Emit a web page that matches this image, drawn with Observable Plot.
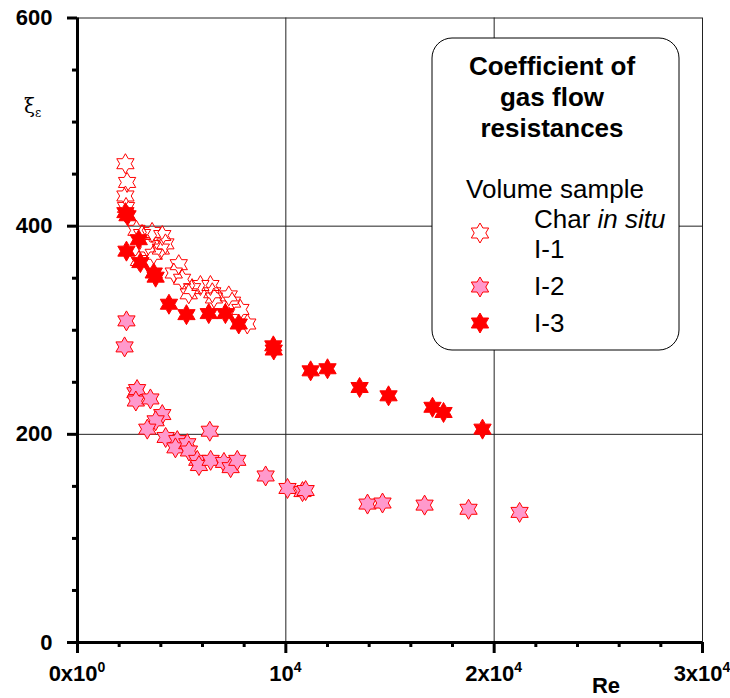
<!DOCTYPE html>
<html><head><meta charset="utf-8">
<script src="https://cdn.jsdelivr.net/npm/d3@7"></script>
<script src="https://cdn.jsdelivr.net/npm/@observablehq/plot@0.6"></script>
<style>body{margin:0;background:#fff}#chart{width:730px;height:698px}</style>
</head><body><div id="chart"></div>
<script>
// Series I-1 (Char in situ) – hollow stars
const re1 = [2300,2380,2300,2330,2830,3100,3580,4070,4220,3340,3660,4000,2950,4860,4620,5020,5500,5340,5900,6380,6470,6550,7260,7420,7820,8150];
const xi1 = [460,442,429,418,396,392,394,391,383,380,373,378,367,363,355,349,340,335,343,343,336,331,333,327,320,306];
// Series I-2 – pink stars
const re2 = [2260,2350,2780,2860,2800,3500,4070,3750,3350,4230,4790,4700,5270,5350,5750,5830,6390,7030,7350,7670,6350,9030,10080,10800,10950,13920,14640,16660,18770,21220];
const xi2 = [284,309,240,243,232,234,219,213,205,197,194,187,191,184,175,170,175,173,168,175,203,160,148,145,146,133,134,132,128,125];
// Series I-3 – red stars
const re3 = [2300,2400,2940,2350,3020,3660,3750,4390,5230,6300,7100,7740,9400,9420,11190,12000,13540,14930,17040,17570,19440];
const xi3 = [413,410,387,376,365,355,351,325,315,316,316,306,285,281,261,263,245,237,226,221,205];

const xMajor = [0,10000,20000,30000];
const xMajorLabels = [["0x10","0"],["10","4"],["2x10","4"],["3x10","4"]];
const xMinor = [2000,4000,6000,8000,12000,14000,16000,18000,22000,24000,26000,28000];
const yMajor = [0,200,400,600];
const yMinor = [50,100,150,250,300,350,450,500,550];
const xGrid = [10000,20000];
const yGrid = [200,400];
const xLabel = "Re";
const legendTitle = ["Coefficient of","gas flow","resistances"];
const legendSubtitle = "Volume sample";
const seriesColors = {hollowStroke:"#ff0000", pink:"#ff99cc", red:"#ff0000"};

const hexagram = {draw(ctx, size) {
  const R = Math.sqrt(size / Math.PI), r = R / Math.sqrt(3);
  for (let k = 0; k < 12; k++) {
    const a = -Math.PI / 2 + k * Math.PI / 6, rr = k % 2 ? r : R;
    const x = rr * Math.cos(a), y = rr * Math.sin(a);
    if (k) ctx.lineTo(x, y); else ctx.moveTo(x, y);
  }
  ctx.closePath();
}};
const rows = (xs, ys) => xs.map((x, i) => ({re: x, xi: ys[i]}));
const font = "'Liberation Sans', Arial, sans-serif";

const plot = Plot.plot({
  width: 730, height: 698,
  marginLeft: 77, marginRight: 28, marginTop: 17.5, marginBottom: 56,
  style: {fontFamily: font, background: "#fff", color: "#000", overflow: "visible"},
  x: {domain: [0, 30000]},
  y: {domain: [0, 600]},
  marks: [
    Plot.ruleX(xGrid, {stroke: "#222", strokeWidth: 1}),
    Plot.ruleY(yGrid, {stroke: "#222", strokeWidth: 1}),
    Plot.ruleY([600], {stroke: "#222", strokeWidth: 1}),
    Plot.ruleX([30000], {stroke: "#222", strokeWidth: 1}),
    Plot.axisX(xMinor, {tickSize: 5, strokeWidth: 3, tickFormat: () => "", label: null}),
    Plot.axisX(xMajor, {tickSize: 11, strokeWidth: 3, tickFormat: () => "", label: null}),
    Plot.axisY(yMinor, {tickSize: 5, strokeWidth: 3, tickFormat: () => "", label: null}),
    Plot.axisY(yMajor, {tickSize: 10, tickPadding: 15, strokeWidth: 3, fontSize: 22, fontWeight: "bold", label: null}),
    Plot.ruleX([0], {stroke: "#000", strokeWidth: 3}),
    Plot.ruleY([0], {stroke: "#000", strokeWidth: 3}),
    Plot.dot(rows(re1, xi1), {x: "re", y: "xi", r: 10, symbol: hexagram, fill: "none", stroke: seriesColors.hollowStroke, strokeWidth: 1}),
    Plot.dot(rows(re2, xi2), {x: "re", y: "xi", r: 10, symbol: hexagram, fill: seriesColors.pink, stroke: "#ff0000", strokeWidth: 1}),
    Plot.dot(rows(re3, xi3), {x: "re", y: "xi", r: 10, symbol: hexagram, fill: seriesColors.red, stroke: "#ff0000", strokeWidth: 1})
  ]
});
document.getElementById("chart").appendChild(plot);

const svg = d3.select(plot);
const xs = plot.scale("x");
// x tick labels with superscripts
const xl = svg.append("g").attr("font-family", font).attr("font-weight", "bold").attr("font-size", 22).attr("text-anchor", "middle");
xMajor.forEach((v, i) => {
  const t = xl.append("text").attr("x", xs.apply(v)).attr("y", 681);
  t.append("tspan").text(xMajorLabels[i][0]);
  t.append("tspan").attr("dy", -9).attr("font-size", 14).text(xMajorLabels[i][1]);
});
svg.append("text").attr("x", 606).attr("y", 693).attr("font-family", font).attr("font-weight", "bold")
  .attr("font-size", 22).attr("text-anchor", "middle").text(xLabel);
// y label xi_epsilon
const yl = svg.append("text").attr("x", 24).attr("y", 113).attr("text-anchor", "start").attr("font-family", "'DejaVu Serif', serif").attr("font-size", 20);
yl.append("tspan").text("ξ");
yl.append("tspan").attr("dy", 4).attr("font-size", 12).text("ε");

// legend
const lg = svg.append("g").attr("font-family", font).attr("font-size", 26).attr("text-anchor", "start");
lg.append("rect").attr("x", 432).attr("y", 38).attr("width", 247).attr("height", 312).attr("rx", 20)
  .attr("fill", "#fff").attr("stroke", "#000").attr("stroke-width", 1);
legendTitle.forEach((s, i) => lg.append("text").attr("x", 552).attr("y", 75 + i * 31)
  .attr("font-weight", "bold").attr("text-anchor", "middle").text(s));
lg.append("text").attr("x", 555).attr("y", 198).attr("text-anchor", "middle").text(legendSubtitle);
const l1 = lg.append("text").attr("x", 534).attr("y", 228);
l1.append("tspan").text("Char ");
l1.append("tspan").attr("font-style", "italic").text("in situ");
lg.append("text").attr("x", 534).attr("y", 258).text("I-1");
lg.append("text").attr("x", 534).attr("y", 295).text("I-2");
lg.append("text").attr("x", 534).attr("y", 332).text("I-3");
const sym = d3.symbol().type(hexagram).size(Math.PI * 100);
[[233, "none"], [287, "#ff99cc"], [323, "#ff0000"]].forEach(([y, f]) =>
  lg.append("path").attr("d", sym()).attr("transform", `translate(480,${y})`)
    .attr("fill", f).attr("stroke", "#ff0000").attr("stroke-width", 1));
</script></body></html>
